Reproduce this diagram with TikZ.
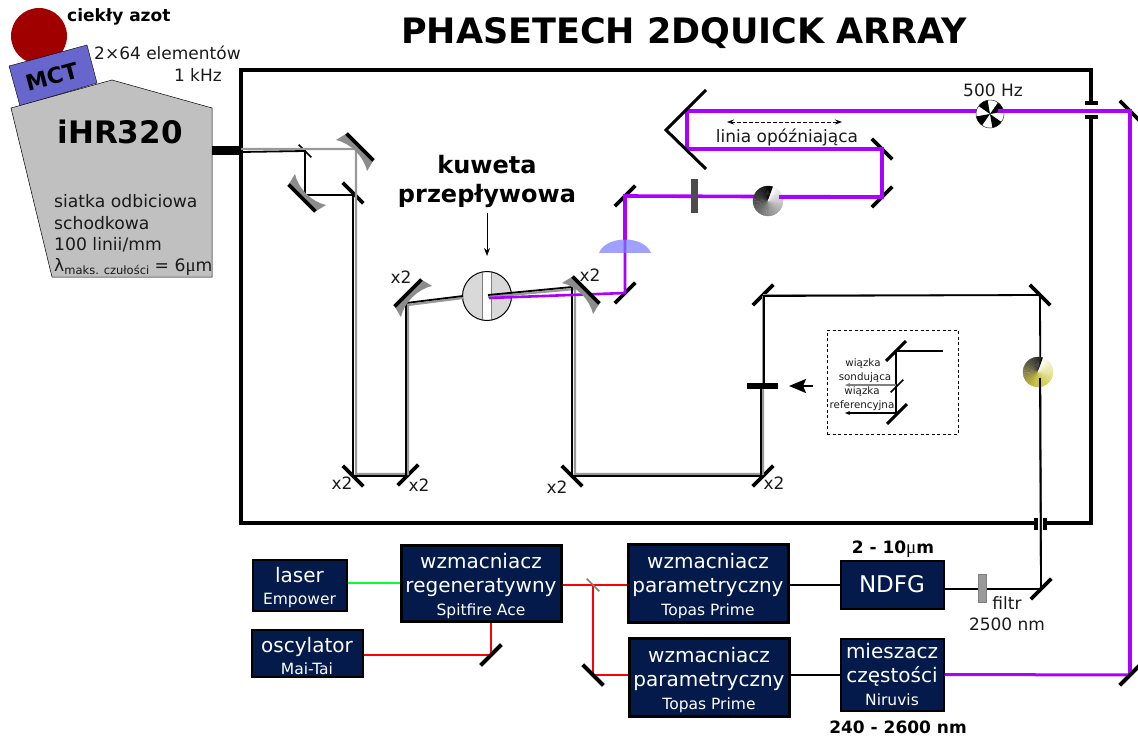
\documentclass[tikz,border=0pt]{standalone}
\usepackage{amsmath,amssymb}
\usepackage{fontspec}
\setmainfont{DejaVu Sans}
\newfontfamily\symfont{Liberation Serif}
\usepackage{tikz}
\usetikzlibrary{arrows.meta}

\definecolor{navybox}{HTML}{041A4B}
\definecolor{purplebeam}{HTML}{AA00FF}
\definecolor{redbeam}{HTML}{FF0000}
\definecolor{greenbeam}{HTML}{00FF33}
\definecolor{mctblue}{HTML}{6666CC}
\definecolor{azotred}{HTML}{A00000}
\definecolor{specgray}{HTML}{C0C0C0}
\definecolor{lensblue}{HTML}{7777FF}
\definecolor{darktext}{HTML}{1A1A1A}

\newcommand{\fs}[1]{\fontsize{#1}{#1}\selectfont}
\newcommand{\toppad}{\rule{0pt}{21pt}}

\tikzset{
    every node/.style={text=darktext},
    mirror/.style={fill=black, minimum width=29pt, minimum height=3.8pt, inner sep=0pt, outer sep=0pt},
    mirrorup/.style={mirror, rotate=45},
    mirrordown/.style={mirror, rotate=-45},
    splitup/.style={fill=black, minimum width=18pt, minimum height=1.5pt, inner sep=0pt, rotate=45},
    splitdown/.style={fill=black, minimum width=18pt, minimum height=1.5pt, inner sep=0pt, rotate=-45},
    boxthick/.style={draw=black, line width=3pt, fill=navybox, text=white, align=center, inner sep=0pt, font=\fs{20}},
    boxthin/.style={boxthick, line width=2pt},
    lab/.style={font=\fs{17}},
    labsmall/.style={font=\fs{10.3}, inner sep=0pt},
    labbold/.style={font=\bfseries\fs{17}, text=black},
    purple/.style={draw=purplebeam, line width=3.6pt},
    purplethin/.style={draw=purplebeam, line width=2.6pt},
    beamblack/.style={draw=black, line width=1.8pt},
    beamgrey/.style={draw=gray!80, line width=2.2pt},
    beamred/.style={draw=redbeam, line width=2.4pt},
    frame/.style={draw=black, line width=4.2pt},
    curvedmirror/.pic={
        \fill[gray!90] (-19,0) -- (19,0) -- (22,12) .. controls (9,4) and (-9,4) .. (-22,12) -- cycle;
        \draw[black, line width=3.8pt] (-19,0) -- (19,0);
    },
}

% wheel with a conical shade, black through #4 to white
\newcommand{\shadewheel}[4]{
    \begin{scope}[shift={(#1,#2)}]
        \colorlet{wheelmid}{#4}
        \foreach \a in {0,8,...,352}{
            \ifnum\a<180
                \pgfmathtruncatemacro{\p}{\a/1.8}
                \fill[wheelmid!\p!black, draw=wheelmid!\p!black, line width=.2pt] (0,0) -- ({70+\a}:#3pt) -- ({78+\a}:#3pt) -- cycle;
            \else
                \pgfmathtruncatemacro{\p}{(\a-180)/1.8}
                \fill[white!\p!wheelmid, draw=white!\p!wheelmid, line width=.2pt] (0,0) -- ({70+\a}:#3pt) -- ({78+\a}:#3pt) -- cycle;
            \fi
        }
    \end{scope}
}

\begin{document}
\begin{tikzpicture}[x=1pt, y=-1pt]
    \useasboundingbox (0, 0) rectangle (1138, 738);

    \node[font=\bfseries\fs{35}, text=black, inner sep=0pt] (title) at (684, 33) {PHASETECH 2DQUICK ARRAY};

    % detector and spectrometer
    \fill[azotred] (39, 36) circle (28);
    \draw[fill=mctblue, line width=.4pt] (9, 66) -- (87, 45) -- (97, 83) -- (20, 106) -- cycle;
    \node[font=\bfseries\fs{22}, text=black, rotate=15, inner sep=0pt] (mct) at (52, 77) {MCT};
    \draw[fill=specgray, line width=.5pt] (11, 108) -- (112, 80) -- (212, 108) -- (212, 277) -- (52, 277) -- cycle;
    \node[font=\bfseries\fs{31}, text=black, inner sep=0pt] (spec) at (120, 132) {iHR320};

    \node[labbold, inner sep=0pt, anchor=west] (azot) at (67, 17) {ciekły azot};
    \node[lab, inner sep=0pt, anchor=west] (elem) at (94, 53) {2×64 elementów};
    \node[lab, inner sep=0pt, anchor=east] (rate) at (222, 75) {1 kHz};

    \node[font=\fs{17.2}, inner sep=0pt, anchor=west] (gratA) at (54, 201) {siatka odbiciowa};
    \node[font=\fs{17.2}, inner sep=0pt, anchor=west] (gratB) at (54, 223) {schodkowa};
    \node[font=\fs{17.2}, inner sep=0pt, anchor=west] (gratC) at (54, 245) {100 linii/mm};
    \node[font=\fs{17.2}, inner sep=0pt, anchor=west] (gratD) at (54, 267) {λ\raisebox{-3pt}{\fs{11.5}maks. czułości} = 6{\symfont\fs{19}μ}m};

    % frame of the instrument
    \draw[frame] (1091, 103) -- (1091, 70) -- (241, 70) -- (241, 523) -- (1036, 523);
    \draw[frame] (1045, 523) -- (1091, 523) -- (1091, 117);
    \draw[frame] (1085, 103) -- (1098, 103);
    \draw[frame] (1085, 117) -- (1098, 117);
    \draw[frame] (1036, 518) -- (1036, 530);
    \draw[frame] (1045, 518) -- (1045, 530);
    \draw[black, line width=9pt] (212, 151) -- (241, 151);

    % mirrors
    \node[splitdown] (splitIn) at (305, 151) {};
    \node[mirrordown] (mFoldA) at (353, 193) {};
    \node[mirrordown] (mLowA) at (353, 476) {};
    \node[mirrorup] (mLowB) at (408, 475) {};
    \node[mirrordown] (mLowC) at (572, 476) {};
    \node[mirrorup] (mLowD) at (763, 476) {};
    \node[mirrorup] (mTopL) at (763, 295) {};
    \node[mirrordown] (mTopR) at (1040, 295) {};
    \node[mirrorup] (mFilter) at (1041, 589) {};
    \node[mirrordown] (mPurpleA) at (1130, 111) {};
    \node[mirrorup] (mPurpleB) at (1130, 675) {};
    \node[mirrordown] (mDelayA) at (882, 149) {};
    \node[mirrorup] (mDelayB) at (882, 197) {};
    \node[mirrorup] (mFoldB) at (625, 196) {};
    \node[mirrorup] (mFoldC) at (625, 293) {};

    \coordinate (gA) at (241, 149);
    \coordinate (gB) at (356, 149);
    \coordinate (gC) at (356, 474);
    \coordinate (gD) at (408, 474);
    \coordinate (gE) at (408, 305);
    \coordinate (gF) at (463, 298);
    \coordinate (bA) at (241, 152);
    \coordinate (bB) at (305, 195);
    \coordinate (bC) at (353, 195);
    \coordinate (bD) at (406, 476);
    \coordinate (bE) at (406, 303);
    \coordinate (bF) at (463, 296);
    \coordinate (gG) at (488, 297);
    \coordinate (gH) at (575, 289);
    \coordinate (gI) at (575, 474);
    \coordinate (gJ) at (763, 474);
    \coordinate (bG) at (488, 295);
    \coordinate (bH) at (572, 287);
    \coordinate (bI) at (761, 476);
    \coordinate (pA) at (687, 111);
    \coordinate (pB) at (687, 149);
    \coordinate (pC) at (489, 298);

    % cuvette
    \node[circle, minimum size=49pt, inner sep=0pt, fill=gray!30] (cuvette) at (487, 296) {};
    \fill[white] (482, 272) rectangle (491, 320);
    \draw[gray, line width=.6pt] (482, 272) -- (482, 320);
    \draw[gray, line width=.6pt] (491, 272) -- (491, 320);
    \draw[black, line width=1pt] (487, 296) circle (24.5);

    % infrared beams
    \draw[beamgrey] (gA) -- (gB) -- (gC) -- (gD) -- (gE) -- (gF);
    \draw[beamblack] (bA) -- (splitIn.center) -- (bB) -- (bC) -- (mLowA.center |- bD) -- (bD) -- (bE) -- (bF);
    \draw[beamgrey] (gG) -- (gH) -- (gI) -- (gJ) -- (763, 386);
    \draw[beamblack] (bG) -- (bH) -- (572, 476) -- (bI) -- (761, 386);
    \draw[beamgrey] (mTopL.center) -- (mTopR.center);
    \draw[beamgrey] (763, 296) -- (763, 386);
    \draw[beamblack] (764, 386) -- (764, 296) -- (mTopR.center);
    \draw[beamblack] (mTopR.center) -- (mFilter.center);

    % purple beam
    \draw[purple] (990, 111) -- (pA) -- (pB) -- (mDelayA.center) -- (mDelayB.center) -- (mFoldB.center) -- (625, 240);
    \draw[purplethin] (625, 240) -- (mFoldC.center) -- (pC);

    \fill[lensblue, opacity=.7] (599, 253) .. controls (606, 235) and (644, 235) .. (651, 253) -- cycle;
    \fill[black!70] (691, 179) rectangle (698, 213);

    % curved mirrors
    \pic[rotate=-45] at (360, 147) {curvedmirror};
    \pic[rotate=135] at (302, 198) {curvedmirror};
    \pic[rotate=45] at (408, 293) {curvedmirror};
    \pic[rotate=-45] at (586, 290) {curvedmirror};

    % retroreflector and delay arrow
    \draw[black, line width=3pt] (706, 90) -- (666, 130) -- (706, 169);
    \draw[{Stealth[length=7pt, width=5pt]}-{Stealth[length=7pt, width=5pt]}, dash pattern=on 4pt off 2pt, line width=.8pt] (727, 122) -- (842, 122);
    \node[lab, inner sep=0pt] (delay) at (787, 137) {linia opóźniająca};

    % choppers
    \shadewheel{768}{201}{15}{gray}
    \draw[purple] (779, 197) -- (mDelayB.center);
    \shadewheel{1038}{372}{15}{yellow!75!black}
    \draw[beamblack] (1040, 378) -- (mFilter.center);

    \begin{scope}[shift={(990, 114)}]
        \fill[white] (0, 0) circle (14);
        \foreach \a in {10,100,190,280}{
            \fill[black] (0, 0) -- ({\a}:14pt) -- ({\a+22}:14pt) -- ({\a+45}:14pt) -- cycle;
        }
        \draw[black, line width=.4pt] (0, 0) circle (14);
    \end{scope}
    \draw[purple] (998, 111) -- (mPurpleA.center) -- (mPurpleB.center);
    \node[lab, inner sep=0pt] (chopper) at (993, 90) {500 Hz};

    % texts at the cuvette
    \node[font=\bfseries\fs{24}, text=black, inner sep=0pt] (kuwA) at (487, 165) {kuweta};
    \node[font=\bfseries\fs{24}, text=black, inner sep=0pt] (kuwB) at (487, 196) {przepływowa};
    \draw[-{Stealth[length=8pt, width=6pt]}, line width=1pt] (487, 213) -- (487, 256);

    \node[lab, inner sep=0pt] (xA) at (401, 277) {x2};
    \node[lab, inner sep=0pt] (xB) at (590, 275) {x2};
    \node[lab, inner sep=0pt] (xC) at (342, 483) {x2};
    \node[lab, inner sep=0pt] (xD) at (419, 485) {x2};
    \node[lab, inner sep=0pt] (xE) at (557, 487) {x2};
    \node[lab, inner sep=0pt] (xF) at (774, 483) {x2};

    % inset with the two beams
    \node[draw=black, dash pattern=on 3pt off 2.5pt, line width=.9pt, minimum width=131pt, minimum height=104pt, inner sep=0pt] (inset) at (892.5, 382) {};
    \node[mirrorup, minimum width=28pt, minimum height=3pt] (iA) at (896, 351) {};
    \node[mirrorup, minimum width=28pt, minimum height=3pt] (iB) at (897, 414) {};
    \node[splitup] (iC) at (897, 386) {};
    \coordinate (iIn) at (943, 351);
    \coordinate (iProbe) at (845, 385);
    \coordinate (iRef) at (845, 413);
    \draw[line width=1.1pt] (iIn) -- (iA.center) -- (896, 413);
    \draw[-{Stealth[length=5pt, width=4pt]}, gray, line width=1.1pt] (896, 385) -- (iProbe);
    \draw[-{Stealth[length=5pt, width=4pt]}, line width=1.1pt] (896, 413) -- (iRef);
    \node[labsmall] (probeA) at (863, 364) {wiązka};
    \node[labsmall] (probeB) at (865, 378) {sondująca};
    \node[labsmall] (refA) at (862, 392) {wiązka};
    \node[labsmall] (refB) at (862, 406) {referencyjna};
    \node[fill=black, minimum width=31pt, minimum height=5.5pt, inner sep=0pt] (block) at (762, 386) {};
    \draw[-{Stealth[length=17pt, width=14pt, inset=3pt]}, line width=2pt] (813, 386) -- (789, 386);

    % light sources and amplifiers
    \node[boxthin, minimum width=94pt, minimum height=51pt] (laser) at (299.5, 585) {\toppad laser\\[2pt]\fs{15.5}Empower};
    \node[boxthick, minimum width=160pt, minimum height=76pt] (regen) at (481, 583) {\toppad wzmacniacz\\[4pt]regeneratywny\\[3pt]\fs{15.5}Spitfire Ace};
    \node[boxthin, minimum width=111pt, minimum height=47pt] (osc) at (307, 653) {\toppad oscylator\\[2pt]\fs{15.5}Mai-Tai};
    \node[boxthick, minimum width=160pt, minimum height=78pt] (parA) at (708, 583) {\toppad wzmacniacz\\[4pt]parametryczny\\[3pt]\fs{15.5}Topas Prime};
    \node[boxthick, minimum width=160pt, minimum height=78pt] (parB) at (709, 677) {\toppad wzmacniacz\\[4pt]parametryczny\\[3pt]\fs{15.5}Topas Prime};
    \node[boxthin, minimum width=103pt, minimum height=48pt, font=\fs{23}] (ndfg) at (892, 584.5) {NDFG};
    \node[boxthin, minimum width=103pt, minimum height=72pt] (mixer) at (892, 674.5) {mieszacz\\[4pt]częstości\\[3pt]\fs{15.5}Niruvis};

    \node[mirrorup] (mOsc) at (491, 655) {};
    \node[mirrordown] (mPump) at (593, 675) {};
    \coordinate (pumpIn) at (593, 585);

    \draw[draw=greenbeam, line width=2.4pt] ([yshift=2pt]laser.east) -- ([yshift=2pt]laser.east -| regen.west);
    \draw[beamred] (regen.east |- pumpIn) -- (parA.west |- pumpIn);
    \draw[beamred] (pumpIn) -- (mPump.center) -- (mPump.center -| parB.west);
    \draw[beamred] (regen.south -| mOsc) -- (mOsc.center) -- (mOsc.center -| osc.east);
    \draw[beamblack, line width=2pt] (parA.east |- ndfg) -- (ndfg.west);
    \draw[beamblack, line width=2pt] (parB.east |- mixer) -- (mixer.west);
    \draw[beamblack, line width=2pt] (ndfg.east |- mFilter) -- (mFilter.center);
    \draw[draw=purplebeam, line width=3pt] (mixer.east) -- (mPurpleB.center);
    \node[mirrorup] at (mPurpleB) {};
    \node[mirrorup] at (mOsc) {};
    \node[mirrordown] at (mPump) {};
    \node[splitdown, fill=gray] (splitPump) at (pumpIn) {};

    \node[fill=gray!80, draw=gray, line width=.3pt, minimum width=8pt, minimum height=28pt, inner sep=0pt] (filter) at (982, 588) {};
    \node[lab, inner sep=0pt] (filterA) at (1007, 603) {filtr};
    \node[lab, inner sep=0pt] (filterB) at (1007, 624) {2500 nm};
    \node[labbold, inner sep=0pt] (rangeA) at (893, 549) {2 - 10{\symfont\mdseries\fs{19}μ}m};
    \node[labbold, inner sep=0pt] (rangeB) at (898, 727) {240 - 2600 nm};
\end{tikzpicture}
\end{document}
